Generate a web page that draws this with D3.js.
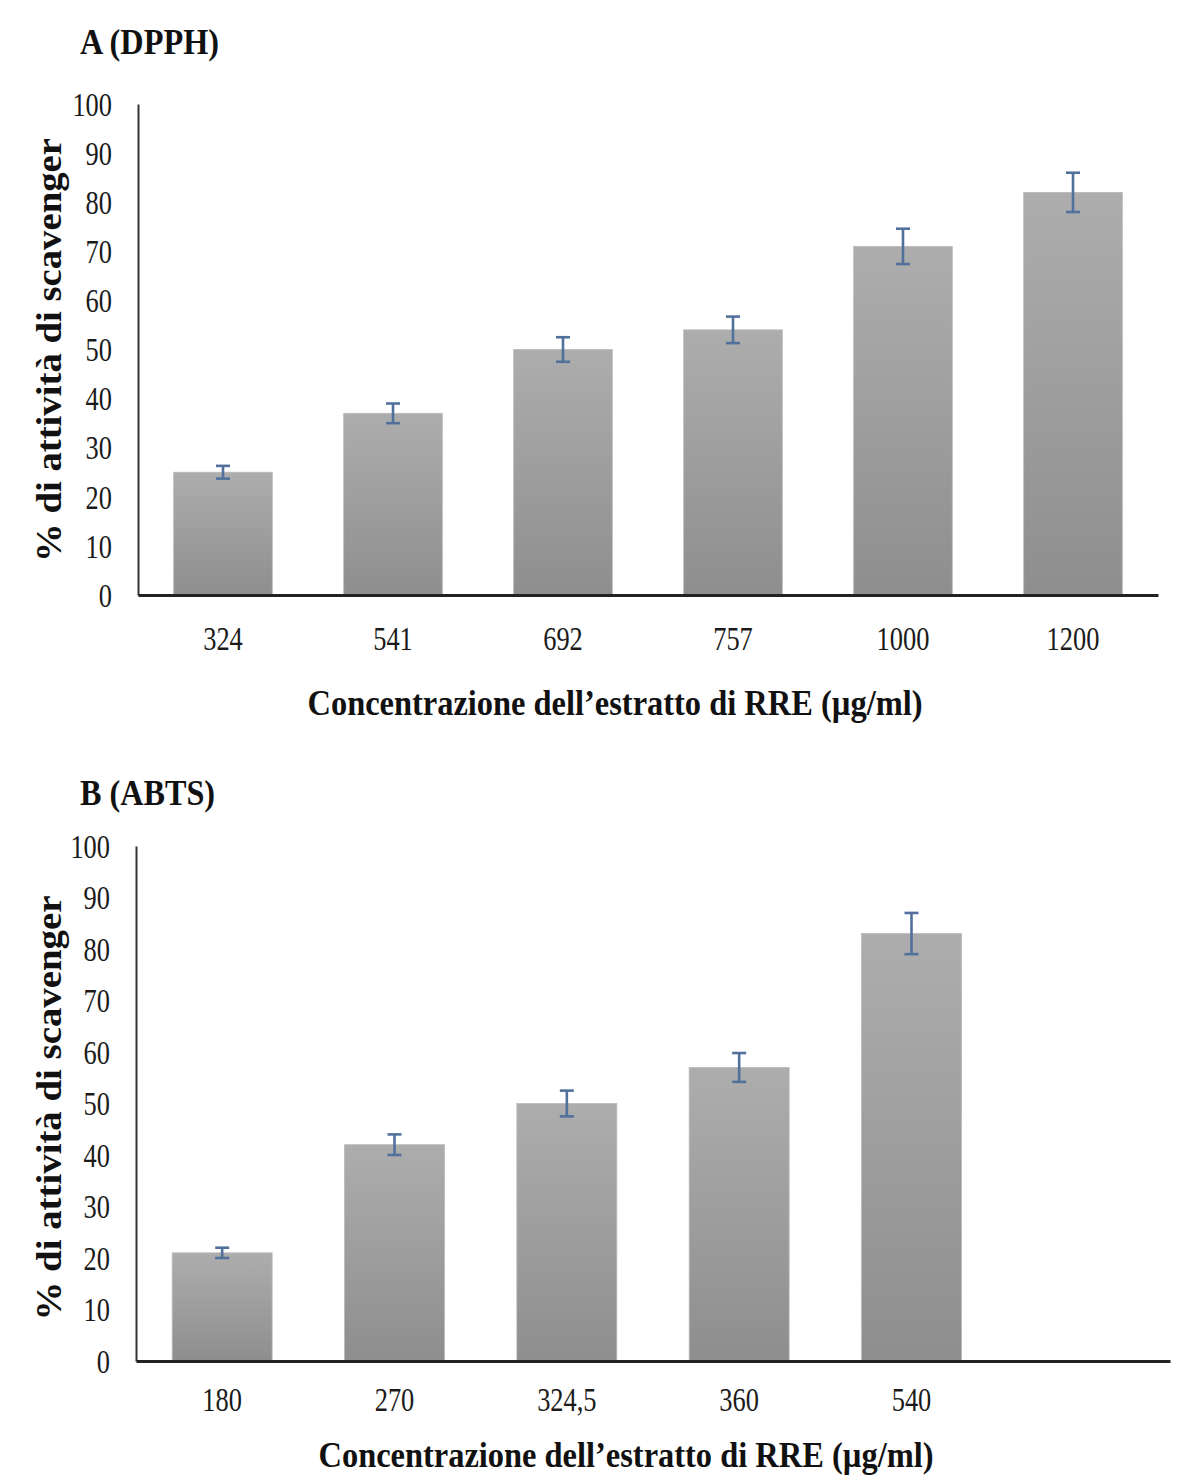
<!DOCTYPE html>
<html>
<head>
<meta charset="utf-8">
<script src="https://cdn.jsdelivr.net/npm/d3@7"></script>
<style>
  html, body { margin: 0; padding: 0; background: #fff; }
  svg { display: block; }
</style>
</head>
<body>
<svg id="chart" width="1200" height="1480"></svg>
<script>
// ---- Data ----
const categoriesA = ["324", "541", "692", "757", "1000", "1200"];
const valuesA = [25, 37, 50, 54, 71, 82];
const errorsA = [1.3, 2, 2.5, 2.7, 3.6, 4];

const categoriesB = ["180", "270", "324,5", "360", "540"];
const valuesB = [21, 42, 50, 57, 83];
const errorsB = [1, 2, 2.5, 2.8, 4];

const yTicks = [0, 10, 20, 30, 40, 50, 60, 70, 80, 90, 100];

const titleA = "A (DPPH)";
const titleB = "B (ABTS)";
const yLabel = "% di attività di scavenger";
const xLabel = "Concentrazione dell\u2019estratto di RRE (\u00b5g/ml)";

// ---- Drawing ----
const svg = d3.select("#chart");
const FONT = "'Liberation Serif', 'Times New Roman', serif";

const defs = svg.append("defs");
const grad = defs.append("linearGradient")
  .attr("id", "barGrad").attr("x1", 0).attr("y1", 0).attr("x2", 0).attr("y2", 1);
grad.append("stop").attr("offset", "0%").attr("stop-color", "#adadad");
grad.append("stop").attr("offset", "100%").attr("stop-color", "#8e8e8e");

function panel(cfg) {
  const { cats, vals, errs, slots, left, right, top, bottom,
          title, titleY, titleLen, xTickY, xLabelX, xLabelY, yLabelCY, yLabelLen } = cfg;

  const domain = cats.slice();
  while (domain.length < slots) domain.push("__empty" + domain.length);

  const x = d3.scaleBand().domain(domain).range([left, right])
    .paddingInner(0.42).paddingOuter(0.21);
  const y = d3.scaleLinear().domain([0, 100]).range([bottom, top]);

  const g = svg.append("g");

  // bars
  g.selectAll("rect.bar").data(cats).enter().append("rect")
    .attr("class", "bar")
    .attr("x", d => x(d))
    .attr("y", (d, i) => y(vals[i]))
    .attr("width", x.bandwidth())
    .attr("height", (d, i) => y(0) - y(vals[i]))
    .attr("fill", "url(#barGrad)")
    .attr("stroke", "#b8b8b8")
    .attr("stroke-width", 0.8);

  // error bars
  const eb = g.selectAll("g.err").data(cats).enter().append("g").attr("class", "err")
    .attr("stroke", "#52709c").attr("stroke-width", 2.6).attr("fill", "none");
  eb.append("line")
    .attr("x1", d => x(d) + x.bandwidth() / 2).attr("x2", d => x(d) + x.bandwidth() / 2)
    .attr("y1", (d, i) => y(vals[i] + errs[i])).attr("y2", (d, i) => y(vals[i] - errs[i]));
  eb.append("line")
    .attr("x1", d => x(d) + x.bandwidth() / 2 - 7).attr("x2", d => x(d) + x.bandwidth() / 2 + 7)
    .attr("y1", (d, i) => y(vals[i] + errs[i])).attr("y2", (d, i) => y(vals[i] + errs[i]));
  eb.append("line")
    .attr("x1", d => x(d) + x.bandwidth() / 2 - 7).attr("x2", d => x(d) + x.bandwidth() / 2 + 7)
    .attr("y1", (d, i) => y(vals[i] - errs[i])).attr("y2", (d, i) => y(vals[i] - errs[i]));

  // y axis
  const ya = g.append("g").attr("transform", `translate(${left},0)`)
    .call(d3.axisLeft(y).tickValues(yTicks).tickSize(0).tickPadding(0));
  ya.select(".domain").attr("stroke", "#333").attr("stroke-width", 2);
  ya.selectAll(".tick text")
    .attr("font-family", FONT).attr("font-size", 33).attr("fill", "#1a1a1a")
    .attr("x", -26 / 0.8).attr("dy", "0.34em")
    .attr("transform", "scale(0.8,1)");

  // x axis
  const xa = g.append("g").attr("transform", `translate(0,${bottom})`)
    .call(d3.axisBottom(x).tickSize(0).tickPadding(0));
  xa.select(".domain").attr("stroke", "#222").attr("stroke-width", 3);
  xa.selectAll(".tick")
    .filter(d => String(d).startsWith("__empty")).remove();
  xa.selectAll(".tick text")
    .attr("font-family", FONT).attr("font-size", 33).attr("fill", "#1a1a1a")
    .attr("y", xTickY - bottom).attr("dy", 0)
    .attr("transform", "scale(0.8,1)");

  // title
  svg.append("text")
    .attr("x", 80).attr("y", titleY)
    .attr("font-family", FONT).attr("font-size", 36).attr("font-weight", "bold")
    .attr("fill", "#111")
    .attr("textLength", titleLen).attr("lengthAdjust", "spacingAndGlyphs")
    .text(title);

  // x label
  svg.append("text")
    .attr("x", xLabelX).attr("y", xLabelY).attr("text-anchor", "middle")
    .attr("font-family", FONT).attr("font-size", 36).attr("font-weight", "bold")
    .attr("fill", "#111")
    .attr("textLength", 615).attr("lengthAdjust", "spacingAndGlyphs")
    .text(xLabel);

  // y label
  svg.append("text")
    .attr("transform", `translate(61,${yLabelCY}) rotate(-90)`)
    .attr("text-anchor", "middle")
    .attr("font-family", FONT).attr("font-size", 36).attr("font-weight", "bold")
    .attr("fill", "#111")
    .attr("textLength", yLabelLen).attr("lengthAdjust", "spacingAndGlyphs")
    .text(yLabel);
}

panel({
  cats: categoriesA, vals: valuesA, errs: errorsA, slots: 6,
  left: 138, right: 1158, top: 104, bottom: 595,
  title: titleA, titleY: 54, titleLen: 139,
  xTickY: 650, xLabelX: 615, xLabelY: 715,
  yLabelCY: 350, yLabelLen: 424
});

panel({
  cats: categoriesB, vals: valuesB, errs: errorsB, slots: 6,
  left: 136, right: 1170, top: 846, bottom: 1361,
  title: titleB, titleY: 805, titleLen: 135,
  xTickY: 1411, xLabelX: 626, xLabelY: 1467,
  yLabelCY: 1108, yLabelLen: 425
});
</script>
</body>
</html>
